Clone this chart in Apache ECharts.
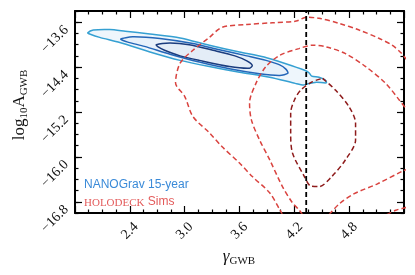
<!DOCTYPE html>
<html><head><meta charset="utf-8">
<script src="https://cdn.jsdelivr.net/npm/echarts@6/dist/echarts.min.js"></script>
<style>html,body{margin:0;padding:0;background:#fff}#c{width:415px;height:275px}</style>
</head><body><div id="c"></div>
<script>
// ---- data ----
const xRange = [1.8, 5.4];
const yRange = [-17.0, -13.4];
const xTickLabels = [2.4, 3.0, 3.6, 4.2, 4.8];
const yTickLabels = [-16.8, -16.0, -15.2, -14.4, -13.6];
const gammaRef = 4.33;

const nanogravOuter = [[1.94,-13.79],[2.00,-13.74],[2.18,-13.73],[2.35,-13.76],[2.62,-13.81],[2.95,-13.88],[3.27,-14.01],[3.60,-14.13],[3.87,-14.22],[4.09,-14.33],[4.32,-14.46],[4.36,-14.50],[4.39,-14.56],[4.47,-14.58],[4.54,-14.63],[4.55,-14.68],[4.44,-14.67],[4.34,-14.70],[4.30,-14.72],[4.21,-14.69],[3.93,-14.58],[3.60,-14.49],[3.27,-14.39],[2.95,-14.28],[2.62,-14.13],[2.29,-13.96],[2.07,-13.87],[1.96,-13.81]];
const nanogravMid = [[2.30,-13.90],[2.43,-13.86],[2.73,-13.89],[3.09,-13.98],[3.38,-14.09],[3.68,-14.20],[3.89,-14.28],[4.04,-14.36],[4.11,-14.44],[4.13,-14.51],[4.04,-14.55],[3.82,-14.52],[3.49,-14.43],[3.16,-14.31],[2.84,-14.17],[2.56,-14.03],[2.37,-13.95]];
const nanogravInner = [[2.69,-14.00],[2.84,-13.97],[3.05,-14.00],[3.31,-14.10],[3.55,-14.20],[3.68,-14.29],[3.74,-14.37],[3.71,-14.42],[3.49,-14.39],[3.16,-14.28],[2.95,-14.20],[2.78,-14.10],[2.71,-14.04]];

const holodeckOuterA = [[4.07,-17.03],[4.04,-16.94],[3.93,-16.64],[3.74,-16.35],[3.60,-16.11],[3.41,-15.82],[3.27,-15.57],[3.09,-15.28],[3.00,-14.92],[2.90,-14.68],[2.95,-14.33],[3.09,-14.10],[3.27,-13.87],[3.41,-13.69],[3.68,-13.64],[3.96,-13.61],[4.22,-13.58],[4.33,-13.51],[4.47,-13.53],[4.69,-13.62],[4.91,-13.74],[5.13,-13.89],[5.27,-14.01],[5.37,-14.15],[5.45,-14.31]];
const holodeckOuterB = [[5.21,-17.03],[5.31,-16.95],[5.38,-16.92],[5.45,-16.89]];
const holodeckMidA = [[4.29,-17.03],[4.25,-16.94],[4.18,-16.82],[4.07,-16.53],[3.93,-16.05],[3.82,-15.70],[3.73,-15.34],[3.71,-15.04],[3.78,-14.69],[3.89,-14.39],[4.04,-14.19],[4.25,-14.07],[4.40,-14.01],[4.55,-14.04],[4.76,-14.16],[4.98,-14.39],[5.20,-14.69],[5.35,-14.99],[5.45,-15.20]];
const holodeckMidB = [[4.58,-17.03],[4.69,-16.84],[4.85,-16.66],[5.11,-16.48],[5.39,-16.25],[5.48,-16.20]];
const holodeckInner = [[4.51,-14.60],[4.65,-14.81],[4.80,-15.11],[4.87,-15.40],[4.87,-15.70],[4.76,-16.05],[4.61,-16.35],[4.47,-16.53],[4.38,-16.52],[4.31,-16.35],[4.18,-15.93],[4.16,-15.57],[4.16,-15.22],[4.20,-14.99],[4.27,-14.81],[4.40,-14.66],[4.51,-14.60]];

// ---- chart ----
const serif = "'Liberation Serif','DejaVu Serif',serif";
const fmtY = v => (v < 0 ? '\u2212' : '') + Math.abs(v).toFixed(1);
const fmtX = v => (Math.abs(v - xRange[0]) < 1e-6 || Math.abs(v - xRange[1]) < 1e-6) ? '' : v.toFixed(1);

const axLine = {show: true, onZero: false, lineStyle: {color: '#000', width: 2}};
function xAx(pos, labels) {
  return {type: 'value', position: pos, min: xRange[0], max: xRange[1], interval: 0.6,
    axisLine: axLine, splitLine: {show: false},
    axisTick: {show: true, inside: true, length: 7, lineStyle: {color: '#000', width: 1.2}},
    minorTick: {show: true, splitNumber: 4, length: 3.5, lineStyle: {color: '#000', width: 1.2}},
    minorSplitLine: {show: false},
    axisLabel: {show: labels, rotate: 45, align: 'center', verticalAlign: 'middle', margin: 18,
      fontFamily: serif, fontSize: 14, color: '#111', formatter: fmtX}};
}
function yMajor(pos, labels) {
  return {type: 'value', position: pos, min: yRange[0], max: yRange[1],
    axisLine: axLine, splitLine: {show: false},
    axisTick: {show: true, inside: true, length: 7, customValues: yTickLabels, lineStyle: {color: '#000', width: 1.2}},
    axisLabel: {show: labels, customValues: yTickLabels, rotate: 45, align: 'right', verticalAlign: 'top',
      padding: [0, 1, 0, 0], margin: 13,
      fontFamily: serif, fontSize: 14, color: '#111', formatter: fmtY}};
}
function yMinor(pos) {
  return {type: 'value', position: pos, min: yRange[0], max: yRange[1], interval: 0.2,
    axisLine: {show: false, onZero: false}, splitLine: {show: false},
    axisTick: {show: true, inside: true, length: 3.5, lineStyle: {color: '#000', width: 1.2}},
    axisLabel: {show: false}};
}

function filledContour(pts, fill, stroke, z) {
  return {type: 'custom', xAxisIndex: 0, yAxisIndex: 0, z: z, data: [0], silent: true,
    renderItem: (params, api) => ({type: 'polygon',
      shape: {points: pts.map(p => api.coord(p)), smooth: 0.25},
      style: {fill: fill, stroke: stroke, lineWidth: 1.5}})};
}
function dashed(pts, color, z) {
  return {type: 'line', xAxisIndex: 0, yAxisIndex: 0, data: pts, showSymbol: false, smooth: 0.3, z: z,
    silent: true, lineStyle: {color: color, width: 1.5, type: [5, 3]}};
}

const chart = echarts.init(document.getElementById('c'), null, {renderer: 'canvas'});
chart.setOption({
  animation: false,
  backgroundColor: '#fff',
  grid: {left: 75, right: 11, top: 11, bottom: 62},
  xAxis: [xAx('bottom', true), xAx('top', false)],
  yAxis: [yMajor('left', true), yMinor('left'), yMajor('right', false), yMinor('right')],
  series: [
    filledContour(nanogravOuter, '#eef6fc', '#35a0d2', 2),
    filledContour(nanogravMid, '#e8f1fa', '#2466b8', 3),
    filledContour(nanogravInner, '#e4edf7', '#1b3c7e', 4),
    dashed(holodeckOuterA, '#d9433f', 5),
    dashed(holodeckOuterB, '#d9433f', 5),
    dashed(holodeckMidA, '#d9433f', 5),
    dashed(holodeckMidB, '#d9433f', 5),
    dashed(holodeckInner, '#8e1b1b', 5),
    {type: 'line', xAxisIndex: 0, yAxisIndex: 0, z: 6, showSymbol: false, silent: true,
      data: [[gammaRef, yRange[0]], [gammaRef, yRange[1]]],
      lineStyle: {color: '#000', width: 1.8, type: [5, 3]}}
  ],
  graphic: [
    {type: 'text', x: 239, y: 257, silent: true,
      style: {text: '{g|\u03b3}{s|GWB}', textAlign: 'center', textVerticalAlign: 'middle',
        rich: {g: {fontFamily: serif, fontStyle: 'italic', fontSize: 17, lineHeight: 20, fill: '#111'},
               s: {fontFamily: serif, fontSize: 11, lineHeight: 11, verticalAlign: 'bottom', fill: '#111'}}}},
    {type: 'text', x: 20, y: 105, rotation: Math.PI / 2, silent: true,
      style: {text: '{a|log}{s|10}{a|A}{s|GWB}', textAlign: 'center', textVerticalAlign: 'middle',
        rich: {a: {fontFamily: serif, fontSize: 17, lineHeight: 20, fill: '#111'},
               s: {fontFamily: serif, fontSize: 11, lineHeight: 11, verticalAlign: 'bottom', fill: '#111'}}}},
    {type: 'text', x: 84, y: 185, silent: true,
      style: {text: 'NANOGrav 15-year', fontFamily: "'Liberation Sans',Arial,sans-serif", fontSize: 12,
        fill: '#3a8ad8', textVerticalAlign: 'middle'}},
    {type: 'text', x: 84, y: 202, silent: true,
      style: {text: '{h|HOLODECK} {s|Sims}', textVerticalAlign: 'middle',
        rich: {h: {fontFamily: serif, fontSize: 11, fill: '#e35a5a', verticalAlign: 'bottom', lineHeight: 14},
               s: {fontFamily: "'Liberation Sans',Arial,sans-serif", fontSize: 12, fill: '#e35a5a', lineHeight: 14}}}}
  ]
});
</script></body></html>
